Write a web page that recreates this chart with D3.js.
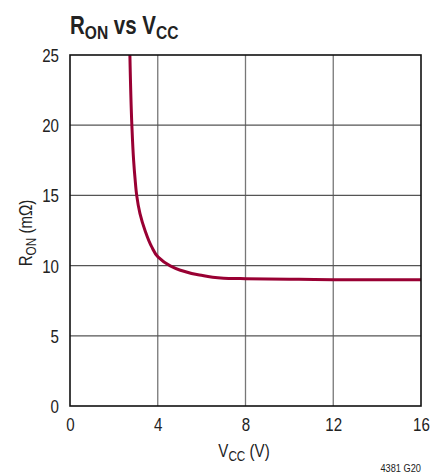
<!DOCTYPE html>
<html>
<head>
<meta charset="utf-8">
<script src="https://cdn.jsdelivr.net/npm/d3@7"></script>
<style>
  html, body { margin: 0; padding: 0; background: #fff; }
  svg { display: block; }
  text { font-family: "Liberation Sans", Arial, sans-serif; fill: #222; }
</style>
</head>
<body>
<svg id="chart" width="431" height="474"></svg>
<script>
// Data
const vcc  = [2.73, 2.82, 2.90, 2.97, 3.04, 3.19, 3.42, 3.72, 4.02, 4.55, 5.0, 5.9, 7.0, 8.0, 10.0, 12.0, 16.0];
const ron  = [25.0, 20.0, 17.5, 16.1, 15.0, 13.7, 12.5, 11.35, 10.6, 10.0, 9.69, 9.33, 9.10, 9.07, 9.03, 9.0, 9.0];
const xTicks = [0, 4, 8, 12, 16];
const yTicks = [0, 5, 10, 15, 20, 25];

const SX = 0.84; // condensed look
const svg = d3.select("#chart");
const L = 70, R = 421, T = 55, B = 406;
const x = d3.scaleLinear().domain([0, 16]).range([L, R]);
const y = d3.scaleLinear().domain([0, 25]).range([B, T]);

// grid
svg.append("g").selectAll("line.v").data(xTicks.slice(1, -1)).join("line")
  .attr("x1", d => x(d)).attr("x2", d => x(d)).attr("y1", T).attr("y2", B)
  .attr("stroke", "#777").attr("stroke-width", 1.3);
svg.append("g").selectAll("line.h").data(yTicks.slice(1, -1)).join("line")
  .attr("y1", d => y(d)).attr("y2", d => y(d)).attr("x1", L).attr("x2", R)
  .attr("stroke", "#555").attr("stroke-width", 1.2);

// curve
svg.append("defs").append("clipPath").attr("id", "clip")
  .append("rect").attr("x", L).attr("y", T).attr("width", R - L).attr("height", B - T);
const pts = vcc.map((v, i) => [v, ron[i]]);
svg.append("path").datum(pts)
  .attr("clip-path", "url(#clip)")
  .attr("fill", "none").attr("stroke", "#990033").attr("stroke-width", 3)
  .attr("stroke-linejoin", "round")
  .attr("d", d3.line().x(d => x(d[0])).y(d => y(d[1])).curve(d3.curveMonotoneY));

// frame
svg.append("rect").attr("x", L).attr("y", T).attr("width", R - L).attr("height", B - T)
  .attr("fill", "none").attr("stroke", "#111").attr("stroke-width", 1.6);

// axes labels
const xAxis = d3.axisBottom(x).tickValues(xTicks).tickSize(0).tickPadding(0);
const gx = svg.append("g").attr("transform", `translate(0,${B})`).call(xAxis);
gx.select(".domain").remove();
gx.selectAll("text").attr("y", 25).attr("dy", 0).attr("font-size", 18)
  .attr("transform", `scale(${SX},1)`).style("font-family", null);

const yAxis = d3.axisLeft(y).tickValues(yTicks).tickSize(0).tickPadding(0);
const gy = svg.append("g").attr("transform", `translate(${L},0)`).call(yAxis);
gy.select(".domain").remove();
gy.selectAll("text").attr("x", -11 / SX).attr("dy", "0.36em").attr("font-size", 18)
  .attr("transform", `scale(${SX},1)`).style("font-family", null);

// title
const title = svg.append("text").attr("transform", `translate(70,34) scale(0.82,1)`)
  .attr("font-size", 25).attr("font-weight", "bold").attr("fill", "#000");
title.append("tspan").text("R");
title.append("tspan").attr("font-size", 19).attr("dy", 5).text("ON");
title.append("tspan").attr("dy", -5).text(" vs V");
title.append("tspan").attr("font-size", 19).attr("dy", 5).text("CC");

// x axis title
const xt = svg.append("text").attr("transform", `translate(244,457) scale(${SX},1)`)
  .attr("text-anchor", "middle").attr("font-size", 18);
xt.append("tspan").text("V");
xt.append("tspan").attr("font-size", 14).attr("dy", 4).text("CC");
xt.append("tspan").attr("dy", -4).text(" (V)");

// y axis title
const yt = svg.append("text").attr("transform", `translate(32,233) rotate(-90) scale(${SX},1)`)
  .attr("text-anchor", "middle").attr("font-size", 18);
yt.append("tspan").text("R");
yt.append("tspan").attr("font-size", 14).attr("dy", 4).text("ON");
yt.append("tspan").attr("dy", -4).text(" (mΩ)");

// figure code
svg.append("text").attr("transform", `translate(421,472) scale(${SX},1)`).attr("text-anchor", "end")
  .attr("font-size", 11).text("4381 G20");
</script>
</body>
</html>
